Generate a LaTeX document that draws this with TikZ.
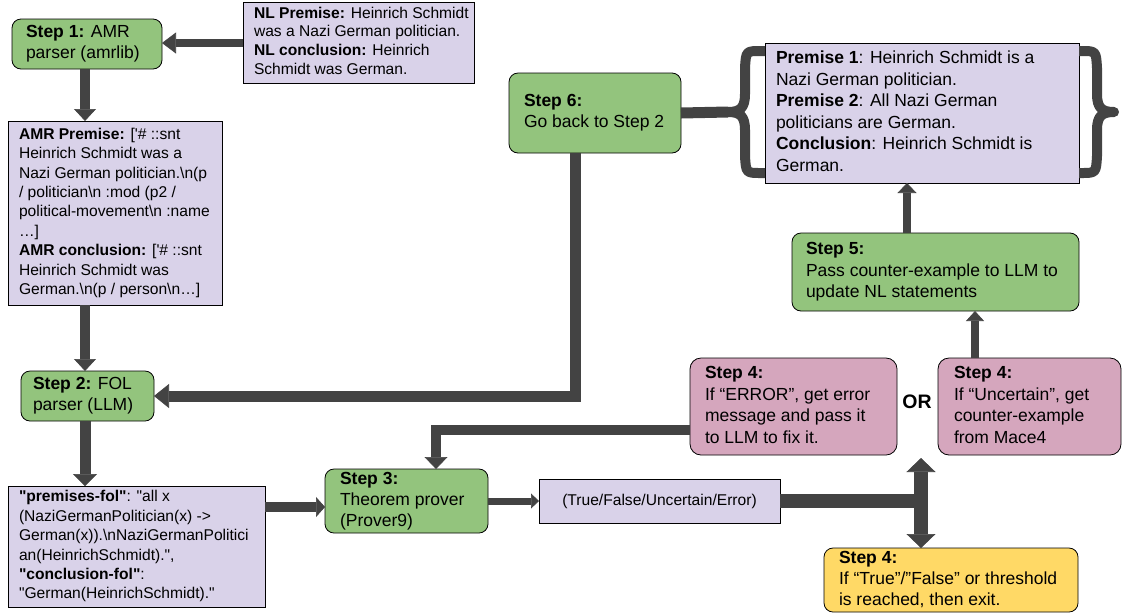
\documentclass[tikz,border=0pt]{standalone}
\usepackage{fontspec}
\newfontfamily\lsf{Liberation Sans}
\usetikzlibrary{arrows.meta}
\definecolor{gfill}{HTML}{93C47D}
\definecolor{pfill}{HTML}{D9D2E9}
\definecolor{kfill}{HTML}{D5A6BD}
\definecolor{yfill}{HTML}{FFD966}
\definecolor{ag}{HTML}{434343}
\newcommand{\tbx}[2]{\makebox[#1][l]{\begin{tabular}{@{}l@{}}#2\end{tabular}}}
\tikzset{
  base/.style={draw=black, line width=0.8pt, anchor=north west, inner ysep=0pt, outer sep=0pt},
  greenbox/.style={base, fill=gfill, rounded corners=9pt, inner xsep=14pt},
  pinkbox/.style={base, fill=kfill, rounded corners=11pt, inner xsep=15pt},
  yellowbox/.style={base, fill=yfill, rounded corners=9pt, inner xsep=15pt},
  purplebox/.style={base, fill=pfill, inner xsep=11pt},
  fbig/.style={font=\lsf\fontsize{17.5}{21}\selectfont},
  fsmall/.style={font=\lsf\fontsize{15.6}{19.4}\selectfont},
  ln/.style={draw=ag, line width=#1},
  tp/.style 2 args={-{Triangle[width=#1,length=#2,line width=0.6pt]}},
}
\begin{document}
\begin{tikzpicture}[x=1pt,y=-1pt]
\useasboundingbox (0,0) rectangle (1123,614);
% nodes
\node[greenbox, fbig, font=\lsf\fontsize{17.5}{20.5}\selectfont, minimum width=150pt, minimum height=50pt] (step1) at (12,19)
  {\tbx{122pt}{\textbf{Step 1:} AMR\\parser (amrlib)}};
\node[purplebox, font=\lsf\fontsize{15.6}{18.7}\selectfont, minimum width=231pt, minimum height=81pt] (nl) at (243,2)
  {\tbx{209pt}{\textbf{NL Premise:} Heinrich Schmidt\\was a Nazi German politician.\\\textbf{NL conclusion:} Heinrich\\Schmidt was German.}};
\node[purplebox, fsmall, minimum width=214pt, minimum height=184pt] (amr) at (8,121)
  {\tbx{192pt}{\textbf{AMR Premise:} ['\# ::snt\\Heinrich Schmidt was a\\Nazi German politician.\textbackslash n(p\\/ politician\textbackslash n :mod (p2 /\\political-movement\textbackslash n :name\\…]\\\textbf{AMR conclusion:} ['\# ::snt\\Heinrich Schmidt was\\German.\textbackslash n(p / person\textbackslash n…]}};
\node[greenbox, font=\lsf\fontsize{17.5}{20.5}\selectfont, inner xsep=12pt, minimum width=133pt, minimum height=50pt] (step2) at (21,371)
  {\tbx{109pt}{\textbf{Step 2:} FOL\\parser (LLM)}};
\node[purplebox, fsmall, minimum width=257pt, minimum height=121pt] (fol) at (8,486)
  {\tbx{235pt}{\textbf{"premises-fol"}: "all x\\(NaziGermanPolitician(x) ->\\German(x)).\textbackslash nNaziGermanPolitici\\an(HeinrichSchmidt).",\\\textbf{"conclusion-fol"}:\\"German(HeinrichSchmidt)."}};
\node[greenbox, fbig, inner xsep=15pt, minimum width=163pt, minimum height=64pt] (step3) at (325,469)
  {\tbx{133pt}{\textbf{Step 3:}\\Theorem prover\\(Prover9)}};
\node[purplebox, fsmall, minimum width=241pt, minimum height=44pt] (res) at (539,479)
  {(True/False/Uncertain/Error)};
\node[greenbox, fbig, inner xsep=15pt, minimum width=172pt, minimum height=80pt] (step6) at (509,73)
  {\tbx{142pt}{\textbf{Step 6:}\\Go back to Step 2}};
\node[purplebox, font=\lsf\fontsize{17.5}{21.5}\selectfont, minimum width=314pt, minimum height=140pt] (prem) at (765,43)
  {\tbx{292pt}{\textbf{Premise 1}: Heinrich Schmidt is a\\Nazi German politician.\\\textbf{Premise 2}: All Nazi German\\politicians are German.\\\textbf{Conclusion}: Heinrich Schmidt is\\German.}};
\node[greenbox, font=\lsf\fontsize{17.5}{21.5}\selectfont, minimum width=287pt, minimum height=78pt] (step5) at (792,233)
  {\tbx{259pt}{\textbf{Step 5:}\\Pass counter-example to LLM to\\update NL statements}};
\node[pinkbox, font=\lsf\fontsize{17.5}{21.6}\selectfont, minimum width=207pt, minimum height=97pt] (err) at (690,358)
  {\tbx{177pt}{\textbf{Step 4:}\\If “ERROR”, get error\\message and pass it\\to LLM to fix it.}};
\node[pinkbox, font=\lsf\fontsize{17.5}{21.6}\selectfont, inner xsep=16pt, minimum width=183pt, minimum height=97pt] (unc) at (938,358)
  {\tbx{151pt}{\textbf{Step 4:}\\If “Uncertain”, get\\counter-example\\from Mace4}};
\node[yellowbox, font=\lsf\fontsize{17.5}{21}\selectfont, minimum width=254pt, minimum height=64pt] (yel) at (824,548)
  {\tbx{224pt}{\textbf{Step 4:}\\If “True”/”False” or threshold\\is reached, then exit.}};
\node[font=\lsf\bfseries\fontsize{19.5}{22}\selectfont, inner sep=0pt] (or) at (917,402) {OR};
% helper coordinates
\coordinate (yNL) at (0,43);
\coordinate (xL) at (85,0);
\coordinate (x6) at (575,0);
\coordinate (yE) at (0,430);
\coordinate (xE) at (436,0);
\coordinate (yF) at (0,507);
\coordinate (x5) at (907,0);
\coordinate (xU) at (975,0);
\coordinate (jn) at (921,501);
\coordinate (jt) at (921,458);
\coordinate (lbt) at (728,112);
% connectors
\draw[ln=8pt,tp={21pt}{14pt}] (nl.west |- yNL) -- (step1.east |- yNL);
\draw[ln=10pt,tp={22pt}{12pt}] (step1.south -| xL) -- (amr.north -| xL);
\draw[ln=10pt,tp={22pt}{12pt}] (amr.south -| xL) -- (step2.north -| xL);
\draw[ln=11pt,tp={24pt}{12pt}] (step2.south -| xL) -- (fol.north -| xL);
\draw[ln=10pt,tp={20pt}{9pt}] (fol.east |- yF) -- (step3.west |- yF);
\draw[ln=7pt,tp={15pt}{8pt}] (step3.east) -- (res.west);
\draw[ln=14pt] (res.east) -- (jn);
\draw[ln=14pt,{Triangle[width=29pt,length=14pt,line width=0.6pt]}-{Triangle[width=29pt,length=14pt,line width=0.6pt]}] (jt) -- (yel.north -| jn);
\draw[ln=10pt,tp={23pt}{12pt}] (err.west |- yE) -| (step3.north -| xE);
\draw[ln=11pt,tp={24pt}{15pt}] (step6.south -| x6) |- (step2.east);
\draw[ln=11pt] (step6.east) -- (lbt);
\draw[ln=8pt,tp={19pt}{10pt}] (step5.north -| x5) -- (prem.south -| x5);
\draw[ln=8pt,tp={18pt}{10pt}] (unc.north -| xU) -- (step5.south -| xU);
% braces
\draw[ln=10pt, line join=round]
  (765,51) -- (761,51) .. controls (746,51) .. (745,68) -- (745,94)
  .. controls (745,108) and (740,112) .. (728,112)
  .. controls (740,112) and (745,116) .. (745,130) -- (745,156)
  .. controls (746,173) .. (761,173) -- (765,173);
\draw[ln=10pt, line join=round]
  (1079,51) -- (1081,51) .. controls (1096,51) .. (1097,68) -- (1097,94)
  .. controls (1097,108) and (1102,112) .. (1114,112)
  .. controls (1102,112) and (1097,116) .. (1097,130) -- (1097,156)
  .. controls (1096,173) .. (1081,173) -- (1079,173);
\end{tikzpicture}
\end{document}
